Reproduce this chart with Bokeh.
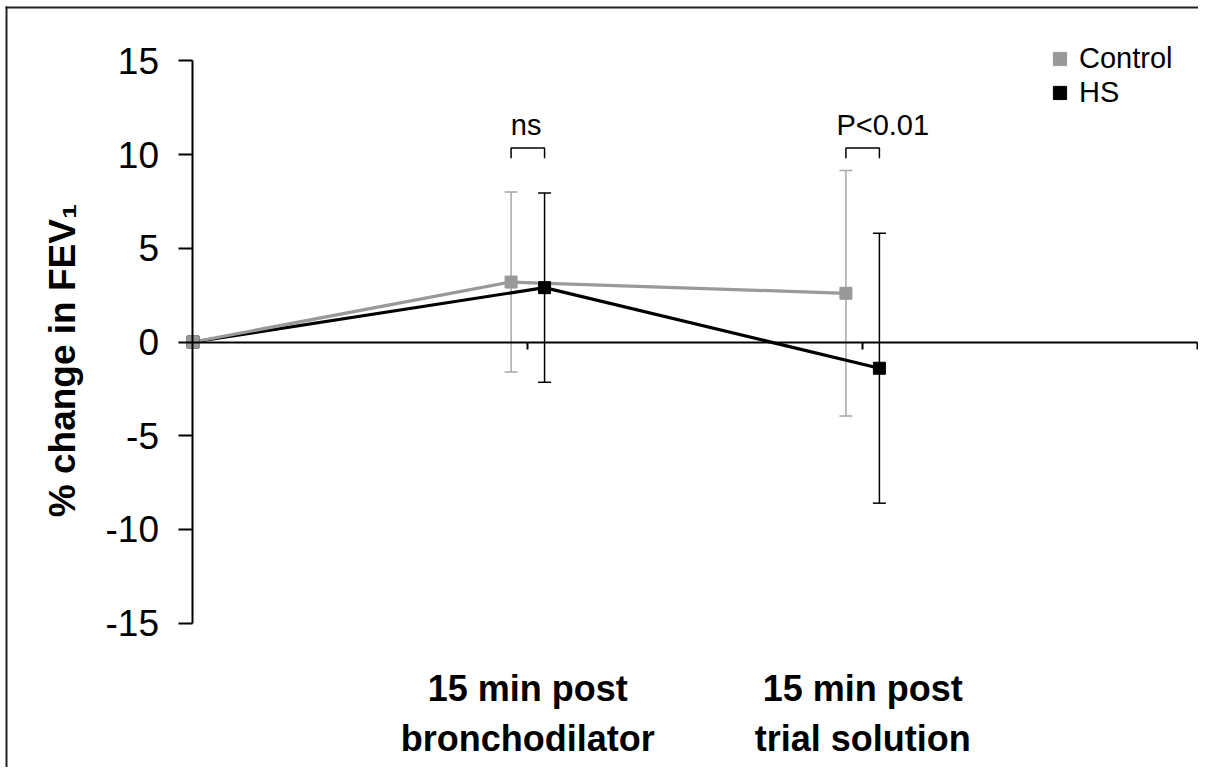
from bokeh.plotting import figure
from bokeh.models import (LinearAxis, FixedTicker, Range1d, Whisker, ColumnDataSource,
                          Legend, LegendItem, BoxAnnotation, TeeHead)
from bokeh.core.properties import value
from bokeh.embed import file_html
from bokeh.resources import INLINE

# ---- data ----
category_ticks = [1, 2]
category_labels = ["15 min post\nbronchodilator", "15 min post\ntrial solution"]
x_control = [0, 0.95, 1.95]
x_hs = [0, 1.05, 2.05]
control_mean = [0, 3.2, 2.6]
control_sd = [0, 4.8, 6.55]
hs_mean = [0, 2.9, -1.4]
hs_sd = [0, 5.05, 7.2]
y_ticks = [-15, -10, -5, 0, 5, 10, 15]
y_tick_labels = ["-15", "-10", "-5", "0", "5", "10", "15"]
x_axis_ticks = [1, 2, 3]
sig_labels = ["ns", "P<0.01"]
sig_x = [0.995, 2.06]
sig_y = [11.6, 11.6]
bracket_low = 9.8
bracket_high = 10.35

FONT = "Liberation Sans"
GREY = "#999999"
GREY_ERR = "#a6a6a6"

W, H = 1198, 767
p = figure(width=W, height=H, output_backend="svg", toolbar_location=None,
           x_range=Range1d(-0.5749, 3.003), y_range=Range1d(-22.705, 18.223),
           x_axis_type=None, y_axis_type=None,
           min_border_left=0, min_border_right=0, min_border_top=0, min_border_bottom=0)
p.outline_line_color = None
p.background_fill_color = "white"
p.border_fill_color = "white"

# y axis crossing at x = 0
yax = LinearAxis(fixed_location=0, bounds=(-15, 15), ticker=FixedTicker(ticks=y_ticks),
                 major_label_overrides={t: l for t, l in zip(y_ticks, y_tick_labels)},
                 major_tick_out=14, major_tick_in=0, minor_tick_out=0, minor_tick_in=0,
                 axis_line_width=2, major_tick_line_width=2,
                 major_label_text_font=FONT, major_label_text_font_size="37px",
                 major_label_text_color="black", major_label_standoff=20)
p.add_layout(yax, "left")

# y axis title (label-only axis)
ylab = LinearAxis(fixed_location=0, bounds=(-16.0, 14.0), ticker=FixedTicker(ticks=[]),
                  axis_line_color=None, major_tick_line_color=None, minor_tick_line_color=None,
                  axis_label="% change in FEV\u2081", axis_label_text_font=FONT,
                  axis_label_text_font_style="bold", axis_label_text_font_size="37px",
                  axis_label_text_color="black", axis_label_standoff=110)
p.add_layout(ylab, "left")

# x axis line crossing at y = 0
xax = LinearAxis(fixed_location=0, bounds=(0, 3), ticker=FixedTicker(ticks=x_axis_ticks),
                 major_tick_out=7, major_tick_in=0, minor_tick_out=0, minor_tick_in=0,
                 axis_line_width=2, major_tick_line_width=2,
                 major_label_text_color=None)
p.add_layout(xax, "below")

# category labels at the bottom
lax = LinearAxis(fixed_location=-16.78, ticker=FixedTicker(ticks=category_ticks),
                 major_label_overrides={t: l for t, l in zip(category_ticks, category_labels)},
                 axis_line_color=None, major_tick_line_color=None, minor_tick_line_color=None,
                 major_label_text_font=FONT, major_label_text_font_style="bold",
                 major_label_text_font_size="36px", major_label_text_color="black",
                 major_label_standoff=6)
p.add_layout(lax, "below")

# lines
p.line(x_hs, hs_mean, line_color="black", line_width=3.2)
p.line(x_control, control_mean, line_color=GREY, line_width=3.2)

# error bars (skip the baseline point)
src_c = ColumnDataSource(dict(x=x_control[1:],
                              upper=[m + s for m, s in zip(control_mean[1:], control_sd[1:])],
                              lower=[m - s for m, s in zip(control_mean[1:], control_sd[1:])]))
src_h = ColumnDataSource(dict(x=x_hs[1:],
                              upper=[m + s for m, s in zip(hs_mean[1:], hs_sd[1:])],
                              lower=[m - s for m, s in zip(hs_mean[1:], hs_sd[1:])]))
for src, col in ((src_c, GREY_ERR), (src_h, "black")):
    w = Whisker(base="x", upper="upper", lower="lower", source=src,
                line_color=col, line_width=1.5,
                upper_head=TeeHead(size=13, line_color=col, line_width=1.5),
                lower_head=TeeHead(size=13, line_color=col, line_width=1.5))
    p.add_layout(w)

# markers
r_hs = p.scatter(x_hs, hs_mean, marker="square", size=12, fill_color="black", line_color="black")
r_c = p.scatter(x_control, control_mean, marker="square", size=12, fill_color=GREY, line_color=GREY)

# significance brackets
bx = [[x_control[i], x_control[i], x_hs[i], x_hs[i]] for i in (1, 2)]
by = [[bracket_low, bracket_high, bracket_high, bracket_low] for _ in (1, 2)]
p.multi_line(bx, by, line_color="black", line_width=1.5)
p.text(x=sig_x, y=sig_y, text=sig_labels, text_align="center", text_baseline="alphabetic",
       text_font=value(FONT), text_font_size="29px", text_color="black")

legend = Legend(items=[LegendItem(label="Control", renderers=[r_c]),
                       LegendItem(label="HS", renderers=[r_hs])],
                location=(1043, 658), glyph_width=33, glyph_height=33, label_standoff=3,
                spacing=1, padding=0, margin=0, border_line_color=None,
                background_fill_alpha=0, label_text_font=FONT, label_text_font_size="29px",
                label_text_color="black")
p.add_layout(legend)

# outer frame: left and top edges (the rest lies outside the picture)
for l, r, t, b in ((5, 7, 6, H), (5, W, 6, 8)):
    p.add_layout(BoxAnnotation(left=l, right=r, top=t, bottom=b,
                               left_units="canvas", right_units="canvas",
                               top_units="canvas", bottom_units="canvas",
                               fill_color="#222222", fill_alpha=1.0,
                               line_color=None, line_alpha=0))

open("out.html", "w").write(file_html(p, INLINE))
